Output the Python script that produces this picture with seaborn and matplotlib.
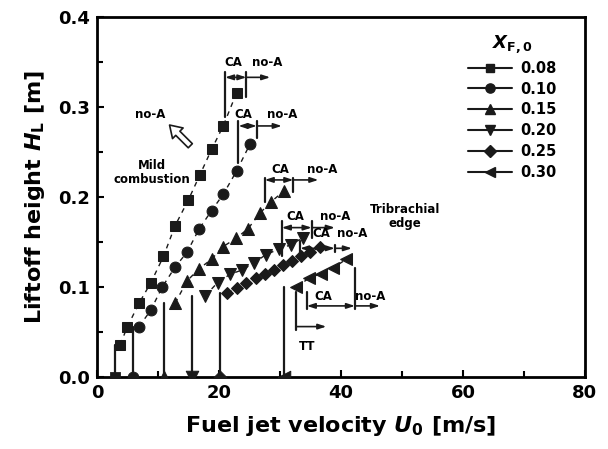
import matplotlib
matplotlib.use("Agg")
import matplotlib.pyplot as plt
import seaborn as sns
import pandas as pd
from matplotlib.lines import Line2D
from matplotlib.ticker import MultipleLocator

# ---------------- data ----------------
labels = ["0.08", "0.10", "0.15", "0.20", "0.25", "0.30"]
marker_list = ["s", "o", "^", "v", "D", "<"]
marker_sizes = [7.2, 7.8, 9.0, 9.0, 6.6, 9.0]

U_008 = [3.8, 5.0, 6.9, 8.85, 10.9, 12.8, 15.0, 16.9, 18.8, 20.7, 22.9]
H_008 = [0.036, 0.056, 0.082, 0.105, 0.134, 0.168, 0.197, 0.225, 0.253, 0.279, 0.316]
U_010 = [6.9, 8.8, 10.7, 12.8, 14.8, 16.7, 18.8, 20.7, 22.9, 25.1]
H_010 = [0.056, 0.074, 0.100, 0.122, 0.139, 0.164, 0.185, 0.203, 0.229, 0.259]
U_015 = [12.8, 14.8, 16.7, 18.8, 20.7, 22.8, 24.8, 26.7, 28.6, 30.7]
H_015 = [0.082, 0.107, 0.120, 0.131, 0.145, 0.154, 0.165, 0.182, 0.195, 0.207]
U_020 = [17.7, 19.8, 21.8, 23.8, 25.8, 27.7, 29.8, 31.8, 33.8]
H_020 = [0.090, 0.105, 0.114, 0.119, 0.127, 0.136, 0.142, 0.147, 0.155]
U_025 = [21.4, 23.0, 24.5, 26.0, 27.5, 29.0, 30.5, 32.0, 33.5, 35.0, 36.5]
H_025 = [0.093, 0.099, 0.105, 0.110, 0.114, 0.119, 0.124, 0.129, 0.134, 0.139, 0.144]
U_030 = [32.7, 34.8, 36.8, 38.7, 40.9]
H_030 = [0.100, 0.110, 0.115, 0.121, 0.131]

U_series = [U_008, U_010, U_015, U_020, U_025, U_030]
H_series = [H_008, H_010, H_015, H_020, H_025, H_030]

# velocity where flame lifts off (attached flame, H = 0)
U_lift = [2.95, 5.95, 11.0, 15.6, 20.2, 30.7]

# regime brackets (CA / no-A)
ca_start = [21.0, 23.2, 27.5, 30.3, 33.3, 34.4]
ca_end = [24.5, 26.2, 32.2, 35.2, 39.0, 42.3]
noA_end = [28.4, 30.3, 36.3, 39.0, 41.8, 46.4]
bracket_y = [0.333, 0.279, 0.219, 0.166, 0.143, 0.079]
lbar_lo = [0.289, 0.238, 0.195, 0.134, 0.134, 0.075]
lbar_hi = [0.339, 0.284, 0.221, 0.173, 0.151, 0.094]
rbar_lo = [0.311, 0.266, 0.206, 0.155, 0.139, 0.075]
rbar_hi = [0.339, 0.284, 0.221, 0.173, 0.147, 0.121]
ca_lab_x = [22.3, 24.0, 30.0, 32.5, 36.8, 37.1]
noA_lab_x = [27.9, 30.3, 36.9, 39.0, 41.8, 44.8]
lab_y = [0.350, 0.292, 0.231, 0.178, 0.160, 0.089]

# ---------------- style ----------------
sns.set_theme(style="ticks")
plt.rcParams["font.family"] = ["DejaVu Sans"]
plt.rcParams["font.weight"] = "bold"
plt.rcParams["mathtext.fontset"] = "custom"
plt.rcParams["mathtext.rm"] = "DejaVu Sans:bold"
plt.rcParams["mathtext.bf"] = "DejaVu Sans:bold"
plt.rcParams["mathtext.it"] = "DejaVu Sans:bold:italic"
for key in ["text.color", "axes.labelcolor", "xtick.color", "ytick.color",
            "axes.edgecolor"]:
    plt.rcParams[key] = "black"

fig = plt.figure(figsize=(6.08, 4.49), dpi=100)
ax = fig.add_axes([0.1595, 0.1604, 0.962 - 0.1595, 0.962 - 0.1604])

rows = []
for lab, us, hs in zip(labels, U_series, H_series):
    for u, h in zip(us, hs):
        rows.append({"U": u, "H": h, "X": lab})
df = pd.DataFrame(rows)
zero_df = pd.DataFrame({"U": U_lift, "H": [0.0] * len(U_lift), "X": labels})

for lab, m, ms, u0, hs in zip(labels, marker_list, marker_sizes, U_lift, H_series):
    sub = df[df["X"] == lab]
    sns.lineplot(data=sub, x="U", y="H", ax=ax, color="k", marker=m,
                 markersize=ms, markerfacecolor="k", markeredgecolor="k",
                 linewidth=1.0, linestyle=(0, (3.5, 3.5)), sort=False,
                 legend=False)
    zs = zero_df[zero_df["X"] == lab]
    sns.scatterplot(data=zs, x="U", y="H", ax=ax, color="k", marker=m,
                    s=ms ** 2, edgecolor="k", legend=False, clip_on=True,
                    zorder=3)
    ax.plot([u0, u0], [0, hs[0]], color="k", lw=1.6)

arrow_kw = dict(arrowstyle="-|>,head_length=0.4,head_width=0.13", color="k",
                lw=1.2, shrinkA=0, shrinkB=0)
darrow_kw = dict(arrowstyle="<|-|>,head_length=0.4,head_width=0.13", color="k",
                 lw=1.2, shrinkA=0, shrinkB=0)
for i in range(len(labels)):
    y = bracket_y[i]
    ax.plot([ca_start[i]] * 2, [lbar_lo[i], lbar_hi[i]], color="k", lw=1.6)
    ax.plot([ca_end[i]] * 2, [rbar_lo[i], rbar_hi[i]], color="k", lw=1.6)
    ax.annotate("", xy=(ca_end[i], y), xytext=(ca_start[i], y), arrowprops=darrow_kw)
    ax.annotate("", xy=(noA_end[i], y), xytext=(ca_end[i], y), arrowprops=arrow_kw)
    ax.text(ca_lab_x[i], lab_y[i], "CA", ha="center", va="center", fontsize=8.5,
            fontweight="bold")
    ax.text(noA_lab_x[i], lab_y[i], "no-A", ha="center", va="center", fontsize=8.5,
            fontweight="bold")

# TT marker
ax.plot([32.7, 32.7], [0.052, 0.094], color="k", lw=1.6)
ax.annotate("", xy=(37.6, 0.056), xytext=(32.7, 0.056), arrowprops=arrow_kw)
ax.text(34.4, 0.034, "TT", ha="center", va="center", fontsize=8.5, fontweight="bold")

# mild combustion
ax.text(8.7, 0.292, "no-A", ha="center", va="center", fontsize=8.5, fontweight="bold")
ax.annotate("", xy=(11.9, 0.280), xytext=(15.3, 0.257),
            arrowprops=dict(arrowstyle="simple,head_length=0.7,head_width=0.9,tail_width=0.35",
                            fc="white", ec="k", lw=1.2, shrinkA=0, shrinkB=0,
                            mutation_scale=12))
ax.text(9.0, 0.227, "Mild\ncombustion", ha="center", va="center", fontsize=8.5,
        fontweight="bold", linespacing=1.1)
ax.text(50.5, 0.178, "Tribrachial\nedge", ha="center", va="center", fontsize=8.5,
        fontweight="bold", linespacing=1.1)

# axes
ax.set_xlim(0, 80)
ax.set_ylim(0, 0.4)
ax.xaxis.set_major_locator(MultipleLocator(20))
ax.xaxis.set_minor_locator(MultipleLocator(10))
ax.yaxis.set_major_locator(MultipleLocator(0.1))
ax.yaxis.set_minor_locator(MultipleLocator(0.05))
ax.yaxis.set_major_formatter(matplotlib.ticker.FormatStrFormatter("%.1f"))
ax.tick_params(which="both", direction="in", top=False, right=False, width=1.5,
               labelsize=13, pad=5, colors="black")
ax.tick_params(which="major", length=5)
ax.tick_params(which="minor", length=4)
for lbl in ax.get_xticklabels() + ax.get_yticklabels():
    lbl.set_fontweight("bold")
for sp in ax.spines.values():
    sp.set_linewidth(2)
    sp.set_visible(True)
    sp.set_color("black")
ax.set_xlabel(r"Fuel jet velocity $U_{\rm 0}$ [m/s]", fontsize=16, fontweight="bold",
              labelpad=9)
ax.set_ylabel(r"Liftoff height $H_{\rm L}$ [m]", fontsize=16, fontweight="bold",
              labelpad=8)

handles = [Line2D([], [], color="k", marker=m, markersize=ms * 0.85, lw=1.5)
           for m, ms in zip(marker_list, marker_sizes)]
leg = ax.legend(handles, labels, title=r"$X_{\rm F,0}$", loc="upper right",
                bbox_to_anchor=(0.963, 0.984), frameon=False, handlelength=3.0,
                fontsize=10.5, title_fontsize=13, labelspacing=0.4,
                handletextpad=0.6, borderaxespad=0.3)
for t in leg.get_texts():
    t.set_fontweight("bold")

fig.savefig("out.png", dpi=100)
